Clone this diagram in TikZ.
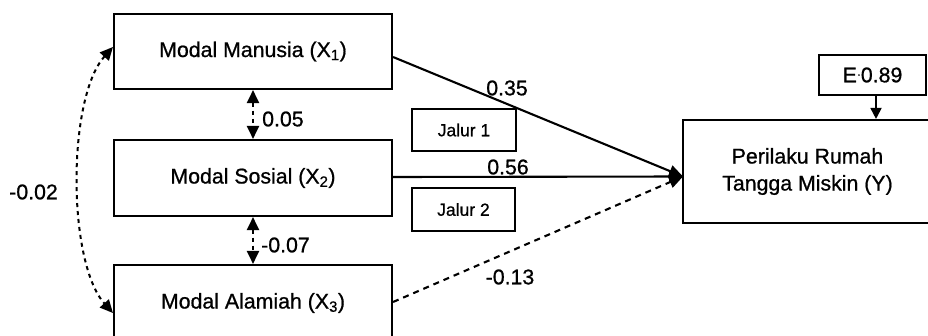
\documentclass[tikz,border=0pt]{standalone}
\usepackage{fontspec}
\setmainfont[FakeBold=0.8]{Liberation Sans}
\usetikzlibrary{arrows.meta}
\begin{document}
\begin{tikzpicture}[x=1pt,y=1pt,
  varbox/.style={draw,line width=2.1pt,inner sep=0pt,font=\fontsize{21.3}{27}\selectfont,align=center},
  smallbox/.style={draw,line width=1.9pt,inner sep=0pt,font=\fontsize{17.5}{20}\selectfont},
  coef/.style={font=\fontsize{21.3}{24}\selectfont,inner sep=0pt},
  path/.style={line width=2.1pt,-{Triangle[length=14pt,width=12pt]}},
  dpath/.style={line width=2.1pt,dash pattern=on 6pt off 5pt,-{Triangle[length=14pt,width=12pt]}},
  corr/.style={line width=2pt,dash pattern=on 4pt off 4pt,{Triangle[length=13pt,width=12pt]}-{Triangle[length=13pt,width=12pt]}}
]
\clip (0,0) rectangle (928,335);
\fill[white] (0,0) rectangle (928,335);

% exogenous variables
\node[varbox,minimum width=278pt,minimum height=75pt] (x1) at (253,283.5) {Modal Manusia (X\textsubscript{1})};
\node[varbox,minimum width=278pt,minimum height=76pt] (x2) at (253,157) {Modal Sosial (X\textsubscript{2})};
\node[varbox,minimum width=278pt,minimum height=76pt] (x3) at (253,32) {Modal Alamiah (X\textsubscript{3})};

% endogenous variable and error term
\node[varbox,minimum width=249pt,minimum height=103pt] (y) at (807.5,163.5) {Perilaku Rumah\\Tangga Miskin (Y)};
\node[varbox,minimum width=107pt,minimum height=40pt] (e) at (872.5,260) {E\raisebox{4pt}{\fontsize{12}{12}\selectfont·}0.89};

% path labels
\node[smallbox,minimum width=104pt,minimum height=42pt] (j1) at (464,205) {Jalur 1};
\node[smallbox,minimum width=103pt,minimum height=43pt] (j2) at (463.5,125.5) {Jalur 2};

% paths into Y
\coordinate (tip) at (683,158.5);
\draw[path] ([yshift=-5.5pt]x1.east) -- (tip);
\draw[path] ([yshift=1pt]x2.east) -- (tip);
\draw[dpath] ([yshift=1pt]x3.east) -- (tip);
\draw[line width=1.8pt,-{Triangle[length=11pt,width=11pt]}] ([xshift=3.5pt]e.south) -- ([xshift=68.5pt]y.north);

% correlations
\draw[corr] (x1.south) -- (x2.north);
\draw[corr] (x2.south) -- (x3.north);
\draw[corr] ([yshift=4.5pt]x1.west) to[out=228,in=132,looseness=0.66] ([yshift=-10pt]x3.west);

% coefficients
\node[coef] (c1) at (507,247) {0.35};
\node[coef] (c2) at (508,168) {0.56};
\node[coef] (c3) at (510,58) {-0.13};
\node[coef,anchor=west] (c12) at (262,216) {0.05};
\node[coef,anchor=west] (c23) at (261,90) {-0.07};
\node[coef,anchor=east] (c13) at (58,143) {-0.02};
\end{tikzpicture}
\end{document}
